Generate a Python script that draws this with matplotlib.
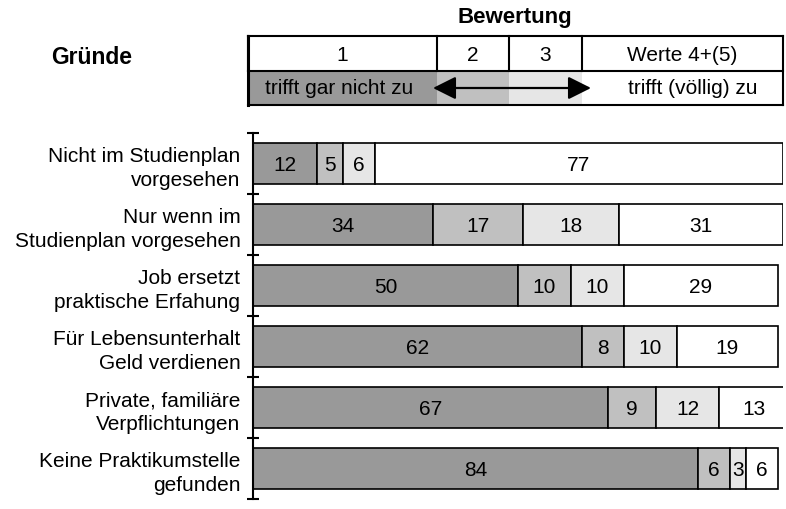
"""
Gruende / Bewertung - stacked horizontal bars with a header table
"""
import matplotlib.pyplot as plt
from matplotlib.patches import Rectangle

plt.rcParams['font.family'] = ['Liberation Sans', 'DejaVu Sans']

# data
reasons = ["Nicht im Studienplan\nvorgesehen",
           "Nur wenn im\nStudienplan vorgesehen",
           "Job ersetzt\npraktische Erfahung",
           "Für Lebensunterhalt\nGeld verdienen",
           "Private, familiäre\nVerpflichtungen",
           "Keine Praktikumstelle\ngefunden"]
val_1 = [12, 34, 50, 62, 67, 84]
val_2 = [5, 17, 10, 8, 9, 6]
val_3 = [6, 18, 10, 10, 12, 3]
val_45 = [77, 31, 29, 19, 13, 6]

header_cols = ["1", "2", "3", "Werte 4+(5)"]
colors = ["#999999", "#c0c0c0", "#e6e6e6", "#ffffff"]
fs = 15

W, H = 786, 510
fig = plt.figure(figsize=(W / 100, H / 100), dpi=100)

# main bar axes (pixel placement)
left, right, top, bottom = 253, 783, 134, 500
ax = fig.add_axes([left / W, 1 - bottom / H, (right - left) / W, (bottom - top) / H])

series = [val_1, val_2, val_3, val_45]
ypos = range(len(reasons))
starts = [0] * len(reasons)
for vals, c in zip(series, colors):
    bars = ax.barh(ypos, vals, left=starts, height=0.66, color=c,
                   edgecolor="black", linewidth=1.2)
    for b, v in zip(bars, vals):
        ax.text(b.get_x() + b.get_width() / 2, b.get_y() + b.get_height() / 2 + 0.02,
                str(v), ha="center", va="center", fontsize=fs)
    starts = [s + v for s, v in zip(starts, vals)]

ax.set_xlim(0, 100)
ax.set_ylim(len(reasons) - 0.5, -0.5)
for s in ["top", "right", "bottom"]:
    ax.spines[s].set_visible(False)
ax.spines["left"].set_linewidth(1.5)
ax.set_xticks([])
ax.set_yticks(range(len(reasons)))
ax.set_yticklabels(reasons, fontsize=fs, linespacing=1.3)
ax.tick_params(axis="y", which="major", length=0, pad=9)
ax.set_yticks([i - 0.5 for i in range(len(reasons) + 1)], minor=True)
ax.tick_params(axis="y", which="minor", direction="inout", length=8, width=1.5)

# header table drawn on an overlay in pixel coordinates
hx = fig.add_axes([0, 0, 1, 1])
hx.set_xlim(0, W)
hx.set_ylim(H, 0)
hx.axis("off")

col_edges = [248, 437, 509, 582, 783]
row_top, row_mid, row_bot = 37, 72, 106
for i in range(3):
    hx.add_patch(Rectangle((col_edges[i], row_mid), col_edges[i + 1] - col_edges[i],
                           row_bot - row_mid, facecolor=colors[i], edgecolor="none"))
for i, lab in enumerate(header_cols):
    hx.text((col_edges[i] + col_edges[i + 1]) / 2, (row_top + row_mid) / 2 + 1, lab,
            ha="center", va="center", fontsize=fs)
    hx.plot([col_edges[i], col_edges[i]], [row_top, row_mid], color="black", lw=1.5)
hx.plot([col_edges[-1], col_edges[-1]], [row_top, row_bot], color="black", lw=1.5)
hx.plot([col_edges[0], col_edges[0]], [row_top, row_bot], color="black", lw=2.2)
for yy in [row_top, row_mid, row_bot]:
    hx.plot([col_edges[0], col_edges[-1]], [yy, yy], color="black", lw=1.5)

ymid = (row_mid + row_bot) / 2
hx.annotate("", xy=(591, ymid), xytext=(433, ymid),
            arrowprops=dict(arrowstyle="<|-|>,head_length=0.7,head_width=0.35",
                            color="black", lw=1.6, mutation_scale=20,
                            shrinkA=0, shrinkB=0))
hx.text((col_edges[0] + col_edges[1]) / 2 - 3, ymid, "trifft gar nicht zu",
        ha="center", va="center", fontsize=fs)
hx.text(693, ymid, "trifft (völlig) zu", ha="center", va="center", fontsize=fs)

hx.text(515, 18, "Bewertung", ha="center", va="center", fontsize=16, fontweight="bold")
hx.text(92, 58, "Gründe", ha="center", va="center", fontsize=16.5, fontweight="bold")

fig.savefig("out.png", dpi=100)
